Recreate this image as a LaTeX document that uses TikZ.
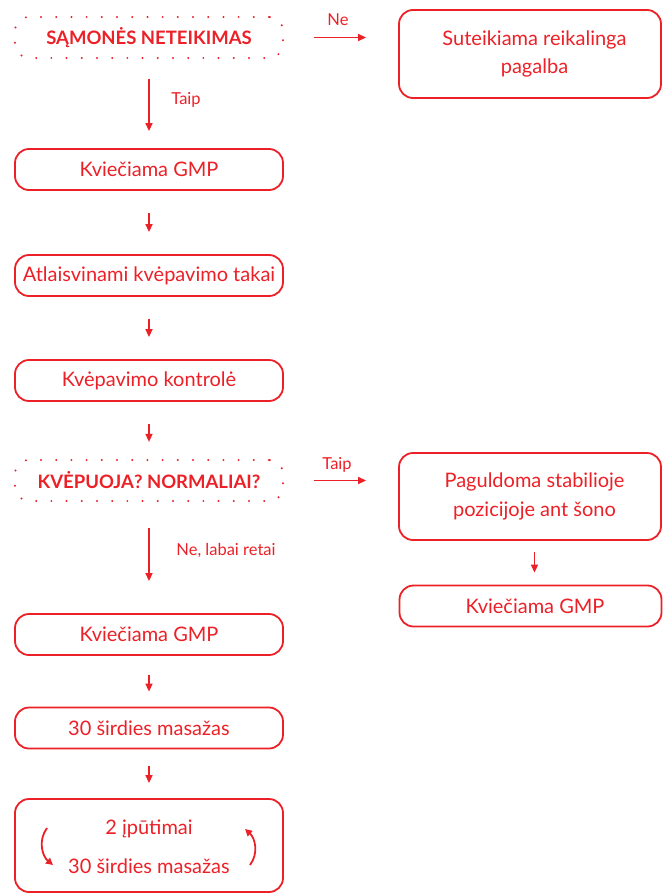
\documentclass[tikz,border=0pt]{standalone}
\usepackage{fontspec}
\setmainfont{Lato}
\usetikzlibrary{arrows.meta}
\definecolor{rd}{RGB}{236,32,39}
\tikzset{
  x=1pt,y=-1pt,
  box/.style={draw=rd,line width=1.8pt,rounded corners=14pt,minimum width=268pt,minimum height=41pt,inner sep=0pt,text=rd,font=\fontsize{20}{24}\selectfont},
  rbox/.style={box,minimum width=262pt},
  dbox/.style={draw=rd,line width=2.2pt,line cap=round,dash pattern=on 0pt off 15.2pt,rounded corners=14pt,minimum width=268pt,minimum height=41pt,inner sep=0pt,text=rd,font=\fontsize{18.5}{22}\selectfont\bfseries},
  arr/.style={draw=rd,line width=1.4pt,-{Triangle[length=8pt,width=7pt]}},
  lbl/.style={text=rd,font=\fontsize{16.5}{19}\selectfont,inner sep=0pt},
  carr/.style={draw=rd,line width=1.8pt,-{Triangle[length=7pt,width=7pt]}},
  txt/.style={text=rd,font=\fontsize{20}{24}\selectfont,inner sep=0pt},
}
\newcommand{\rs}{\hspace*{9pt}}
\begin{document}
\begin{tikzpicture}
\useasboundingbox (0,0) rectangle (662,894);
\node[dbox] (d1) at (149,37.5) {SĄMONĖS NETEIKIMAS};
\node[rbox,minimum height=88pt,align=center,font=\fontsize{20}{28}\selectfont] (r1) at (530,54) {\rs Suteikiama reikalinga\\\rs pagalba};
\node[box] (b1) at (149,169.5) {Kviečiama GMP};
\node[box] (b2) at (149,275.5) {Atlaisvinami kvėpavimo takai};
\node[box] (b3) at (149,380.5) {Kvėpavimo kontrolė};
\node[dbox] (d2) at (149,480.5) {KVĖPUOJA? NORMALIAI?};
\node[rbox,minimum height=87pt,align=center,font=\fontsize{20}{29}\selectfont] (r2) at (530,496.5) {\rs Paguldoma stabilioje\\\rs pozicijoje ant šono};
\node[rbox] (r3) at (530.5,606) {\rs Kviečiama GMP};
\node[box] (b4) at (149,634.5) {Kviečiama GMP};
\node[box] (b5) at (149,728) {30 širdies masažas};
\node[box,minimum height=93pt] (b6) at (149,845.5) {};
\node[txt] (t1) at (149,829) {2 įpūtimai};
\node[txt] (t2) at (149,866) {30 širdies masažas};

\draw[arr,shorten <=20pt,shorten >=17pt] (d1.south) -- (b1.north);
\draw[arr,shorten <=22pt,shorten >=22pt] (b1.south) -- (b2.north);
\draw[arr,shorten <=22pt,shorten >=22pt] (b2.south) -- (b3.north);
\draw[arr,shorten <=22pt,shorten >=17pt] (b3.south) -- (d2.north);
\draw[arr,shorten <=26pt,shorten >=32pt] (d2.south) -- (b4.north);
\draw[arr,shorten <=19pt,shorten >=15pt] (b4.south) -- (b5.north);
\draw[arr,shorten <=17pt,shorten >=15pt] (b5.south) -- (b6.north);
\draw[arr,shorten <=30pt,shorten >=32pt] (d1.east) -- (d1.east -| r1.west);
\draw[arr,shorten <=30pt,shorten >=32pt] (d2.east) -- (d2.east -| r2.west);
\draw[arr,shorten <=11pt,shorten >=12pt] ([xshift=4.5pt]r2.south) -- ([xshift=4pt]r3.north);

\node[lbl] at (186,100) {Taip};
\node[lbl] at (338,20) {Ne};
\node[lbl] at (337,465) {Taip};
\node[lbl] at (226,551) {Ne, labai retai};

\coordinate (la) at (47,828);
\coordinate (lb) at (53,865);
\coordinate (ra) at (250,865);
\coordinate (rb) at (245,829);
\draw[carr] (la) .. controls (38,840) and (42,856) .. (lb);
\draw[carr] (ra) .. controls (259,853) and (255,838) .. (rb);
\end{tikzpicture}
\end{document}
